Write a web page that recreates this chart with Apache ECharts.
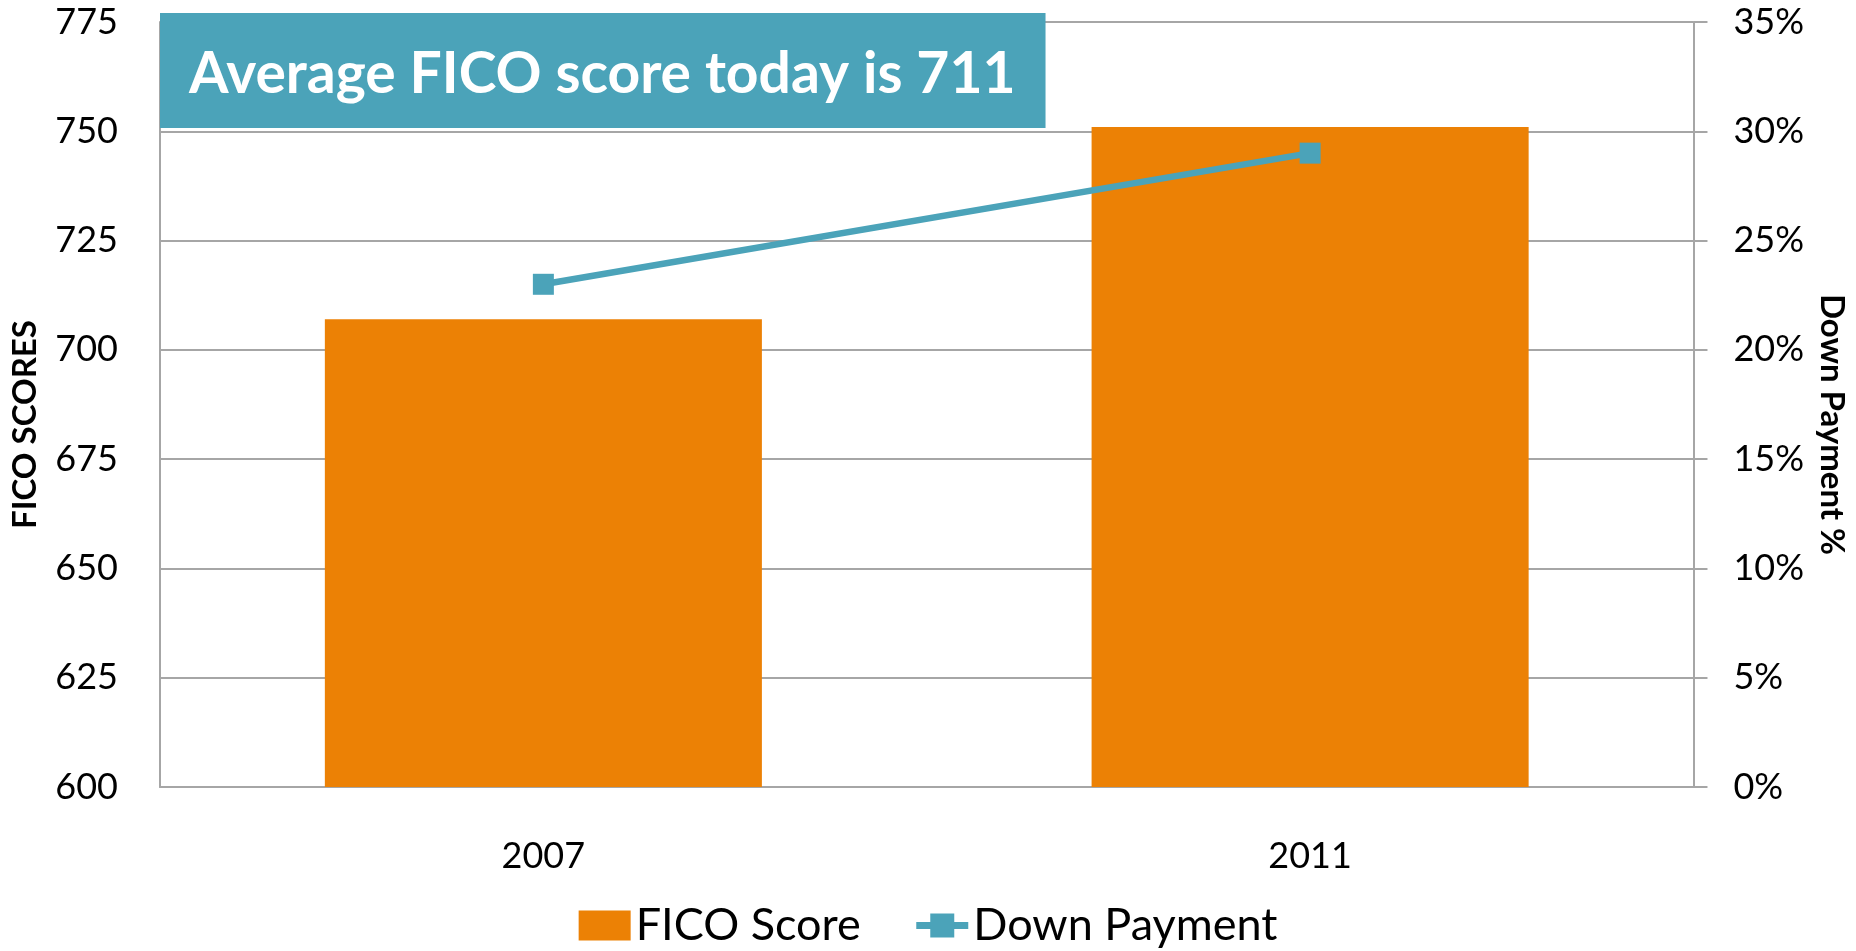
<!DOCTYPE html>
<html>
<head>
<meta charset="utf-8">
<script src="https://cdn.jsdelivr.net/npm/echarts@6/dist/echarts.min.js"></script>
<style>
html,body{margin:0;padding:0;background:#fff;}
#chart{width:1856px;height:951px;}
</style>
</head>
<body>
<div id="chart"></div>
<script>
const categories = ['2007', '2011'];
const ficoScores = [707, 751];
const downPayment = [23, 29];
const leftTicks = { min: 600, max: 775, interval: 25 };
const rightTicks = { min: 0, max: 35, interval: 5 };
const titleText = 'Average FICO score today is 711';

const FONT = 'Lato';
const TEAL = '#4BA3B9';
const ORANGE = '#EC8105';
const GRID = '#A6A6A6';

const chart = echarts.init(document.getElementById('chart'));
chart.setOption({
  animation: false,
  backgroundColor: '#ffffff',
  title: {
    text: titleText,
    left: 160,
    top: 13,
    backgroundColor: TEAL,
    padding: [33, 30, 25, 29],
    textStyle: { color: '#ffffff', fontFamily: FONT, fontWeight: 'bold', fontSize: 57 }
  },
  grid: { left: 160, right: 161, top: 22, bottom: 164 },
  legend: {
    left: 'center',
    top: 898,
    itemWidth: 52,
    itemHeight: 30,
    itemGap: 52,
    lineStyle: { width: 7 },
    textStyle: { fontFamily: FONT, fontSize: 45, color: '#000' },
    data: [{ name: 'FICO Score', icon: 'rect' }, { name: 'Down Payment' }]
  },
  xAxis: {
    type: 'category',
    data: categories,
    axisLine: { show: true, lineStyle: { color: GRID, width: 2 } },
    axisTick: { show: false },
    axisLabel: { fontFamily: FONT, fontSize: 36, color: '#000', margin: 51 }
  },
  yAxis: [
    {
      type: 'value',
      position: 'left',
      min: leftTicks.min, max: leftTicks.max, interval: leftTicks.interval,
      name: 'FICO SCORES',
      nameLocation: 'middle',
      nameRotate: 90,
      nameGap: 118,
      nameTextStyle: { fontFamily: FONT, fontWeight: 'bold', fontSize: 33, color: '#000', padding: [0, 40, 0, 0] },
      axisLine: { show: true, lineStyle: { color: GRID, width: 2 } },
      axisTick: { show: false },
      splitLine: { show: true, lineStyle: { color: GRID, width: 2 } },
      axisLabel: { fontFamily: FONT, fontSize: 36, color: '#000', margin: 42 }
    },
    {
      type: 'value',
      position: 'right',
      min: rightTicks.min, max: rightTicks.max, interval: rightTicks.interval,
      name: 'Down Payment %',
      nameLocation: 'middle',
      nameRotate: -90,
      nameGap: 114,
      nameTextStyle: { fontFamily: FONT, fontWeight: 'bold', fontSize: 33, color: '#000', padding: [0, 0, 0, 40] },
      axisLine: { show: true, lineStyle: { color: GRID, width: 2 } },
      axisTick: { show: true, inside: false, length: 14, lineStyle: { color: GRID, width: 2 } },
      splitLine: { show: false },
      axisLabel: { fontFamily: FONT, fontSize: 36, color: '#000', margin: 40, formatter: '{value}%' }
    }
  ],
  series: [
    {
      name: 'FICO Score',
      type: 'bar',
      yAxisIndex: 0,
      data: ficoScores,
      barWidth: '57%',
      itemStyle: { color: ORANGE }
    },
    {
      name: 'Down Payment',
      type: 'line',
      yAxisIndex: 1,
      data: downPayment,
      symbol: 'rect',
      symbolSize: 21,
      lineStyle: { color: TEAL, width: 6.5 },
      itemStyle: { color: TEAL }
    }
  ]
});
</script>
</body>
</html>
